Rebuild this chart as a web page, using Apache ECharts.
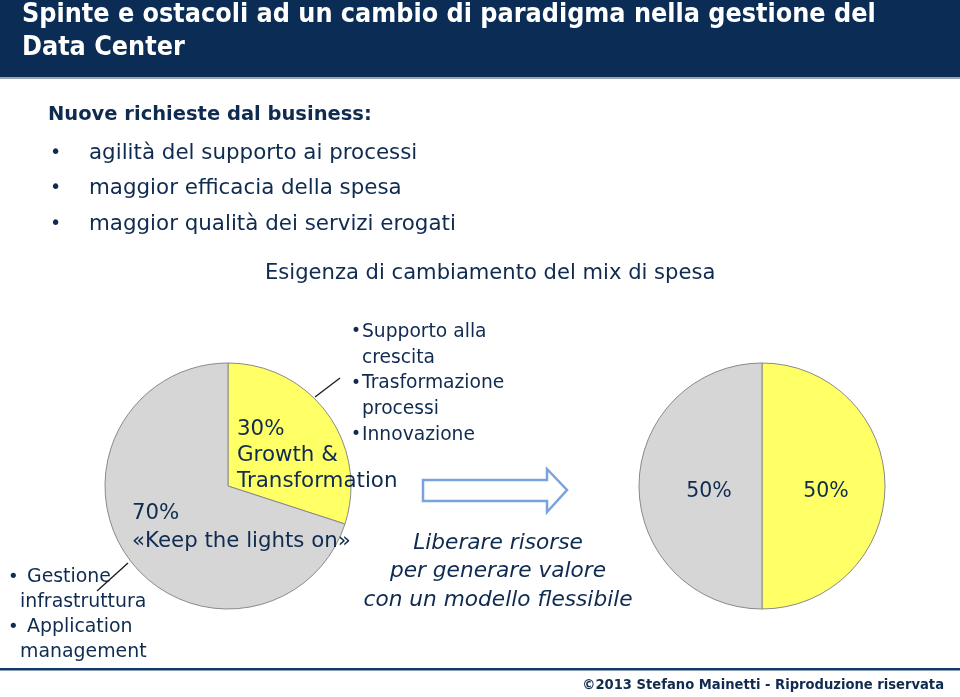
<!DOCTYPE html>
<html><head><meta charset="utf-8">
<script src="https://cdn.jsdelivr.net/npm/echarts@6/dist/echarts.min.js"></script>
<style>html,body{margin:0;padding:0;background:#fff}#c{width:960px;height:697px}</style>
</head><body><div id="c"></div>
<script>
// Data
const leftCategories = ['Growth & Transformation', 'Keep the lights on'];
const leftValues = [30, 70];
const rightCategories = ['Growth & Transformation', 'Keep the lights on'];
const rightValues = [50, 50];
const sliceColors = ['#ffff66', '#d6d6d6'];

const titleLines = ['Spinte e ostacoli ad un cambio di paradigma nella gestione del', 'Data Center'];
const businessHead = 'Nuove richieste dal business:';
const businessItems = ['agilità del supporto ai processi', 'maggior efficacia della spesa', 'maggior qualità dei servizi erogati'];
const changeText = 'Esigenza di cambiamento del mix di spesa';
const growthItems = ['Supporto alla\ncrescita', 'Trasformazione\nprocessi', 'Innovazione'];
const keepItems = ['Gestione\ninfrastruttura', 'Application\nmanagement'];
const footer = '©2013 Stefano Mainetti - Riproduzione riservata';

const NAVY = '#0f2b50';
const FONT = '"DejaVu Sans", sans-serif';
const FONTC = '"DejaVu Sans Condensed", "DejaVu Sans", sans-serif';

const chart = echarts.init(document.getElementById('c'), null, {renderer: 'canvas'});

function txt(x, y, text, opt) {
  return {
    type: 'text', x: x, y: y, z: 10,
    style: Object.assign({text: text, fill: NAVY, font: '19px ' + FONT, textVerticalAlign: 'middle'}, opt || {})
  };
}

const graphics = [];
// header
graphics.push({type: 'rect', shape: {x: 0, y: 0, width: 960, height: 77}, style: {fill: '#0b2c55'}, z: 1});
graphics.push({type: 'rect', shape: {x: 0, y: 77, width: 960, height: 2}, style: {fill: '#9aa6b4'}, z: 1});
graphics.push(txt(22, 15, titleLines[0], {fill: '#ffffff', font: 'bold 26.7px ' + FONTC}));
graphics.push(txt(22, 48, titleLines[1], {fill: '#ffffff', font: 'bold 26.7px ' + FONTC}));
// business list
graphics.push(txt(48, 115, businessHead, {font: 'bold 19.5px ' + FONT}));
businessItems.forEach((t, i) => {
  const y = 153 + i * 35.5;
  graphics.push(txt(50, y, '•', {font: '19px ' + FONT}));
  graphics.push(txt(89, y, t, {font: '21.4px ' + FONT}));
});
graphics.push(txt(265, 274, changeText, {font: '21.1px ' + FONT}));
// growth callout
let gy = 332;
growthItems.forEach((t) => {
  const parts = t.split('\n');
  graphics.push(txt(351, gy, '•', {font: '17px ' + FONT}));
  parts.forEach((p, j) => {
    graphics.push(txt(362, gy + j * 25.7, p, {font: '18.7px ' + FONT}));
  });
  gy += parts.length * 25.7;
});
// keep callout
let ky = 577;
keepItems.forEach((t) => {
  const parts = t.split('\n');
  graphics.push(txt(8, ky, '•', {font: '18px ' + FONT}));
  graphics.push(txt(27, ky, parts[0], {font: '18.9px ' + FONT}));
  graphics.push(txt(20, ky + 25, parts[1], {font: '18.9px ' + FONT}));
  ky += 50.5;
});
// pie labels
graphics.push(txt(237, 429, '30%', {font: '21.4px ' + FONT}));
graphics.push(txt(237, 455, 'Growth &', {font: '21.4px ' + FONT}));
graphics.push(txt(237, 481, 'Transformation', {font: '21.4px ' + FONT}));
graphics.push(txt(132, 513, '70%', {font: '21.3px ' + FONT}));
graphics.push(txt(132, 541, '«Keep the lights on»', {font: '21.3px ' + FONT}));
graphics.push(txt(709, 492, '50%', {font: '20.5px ' + FONT, textAlign: 'center'}));
graphics.push(txt(826, 492, '50%', {font: '20.5px ' + FONT, textAlign: 'center'}));
// italic text
['Liberare risorse', 'per generare valore', 'con un modello flessibile'].forEach((t, i) => {
  graphics.push(txt(498, 543 + i * 28.7, t, {font: 'italic 21.7px ' + FONT, textAlign: 'center'}));
});
// leader lines
graphics.push({type: 'line', shape: {x1: 315, y1: 397, x2: 340, y2: 378}, style: {stroke: '#1a1a1a', lineWidth: 1.3}, z: 11});
graphics.push({type: 'line', shape: {x1: 97, y1: 591, x2: 128, y2: 563}, style: {stroke: '#1a1a1a', lineWidth: 1.3}, z: 11});
// arrow
graphics.push({type: 'polygon', z: 5, shape: {points: [[423, 480], [547, 480], [547, 469], [567, 490], [547, 512], [547, 501], [423, 501]]},
  style: {fill: '#ffffff', stroke: '#7aa3dd', lineWidth: 2.5}});
// footer
graphics.push({type: 'rect', shape: {x: 0, y: 668, width: 960, height: 2.5}, style: {fill: '#123a66'}, z: 1});
graphics.push(txt(944, 685, footer, {font: 'bold 14.6px ' + FONTC, textAlign: 'right'}));

chart.setOption({
  animation: false,
  backgroundColor: '#ffffff',
  graphic: graphics,
  series: [
    {
      type: 'pie', center: [228, 486], radius: 123, startAngle: 90, clockwise: true,
      label: {show: false}, labelLine: {show: false}, silent: true,
      itemStyle: {borderColor: '#8a8a8a', borderWidth: 1},
      data: leftCategories.map((n, i) => ({name: n, value: leftValues[i], itemStyle: {color: sliceColors[i]}}))
    },
    {
      type: 'pie', center: [762, 486], radius: 123, startAngle: 90, clockwise: true,
      label: {show: false}, labelLine: {show: false}, silent: true,
      itemStyle: {borderColor: '#8a8a8a', borderWidth: 1},
      data: rightCategories.map((n, i) => ({name: n, value: rightValues[i], itemStyle: {color: sliceColors[i]}}))
    }
  ]
});
</script></body></html>
